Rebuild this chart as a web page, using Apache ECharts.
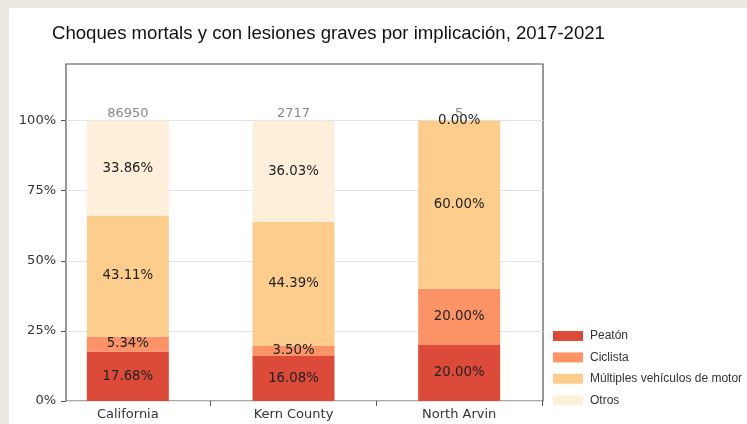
<!DOCTYPE html>
<html>
<head>
<meta charset="utf-8">
<script src="https://cdn.jsdelivr.net/npm/echarts@6/dist/echarts.min.js"></script>
<style>
  html, body { margin: 0; padding: 0; background: #ece9e3; }
  #main { width: 747px; height: 424px; }
</style>
</head>
<body>
<div id="main"></div>
<script>
// data
const categories = ['California', 'Kern County', 'North Arvin'];
const peaton = [17.68, 16.08, 20.00];
const ciclista = [5.34, 3.50, 20.00];
const multiples = [43.11, 44.39, 60.00];
const otros = [33.86, 36.03, 0.00];
const totals = [86950, 2717, 5];
const yTicks = [0, 25, 50, 75, 100];

const seriesNames = ['Peatón', 'Ciclista', 'Múltiples vehículos de motor', 'Otros'];
const colors = ['#dc4a3a', '#fb9367', '#fdcd8e', '#feefdb'];

const chart = echarts.init(document.getElementById('main'), null, { renderer: 'canvas' });

const segLabel = {
    show: true,
    position: 'inside',
    fontFamily: 'DejaVu Sans',
    fontSize: 13.3,
    color: '#222',
    formatter: p => p.value.toFixed(2) + '%'
};

const stackSeries = [peaton, ciclista, multiples, otros].map((vals, i) => ({
    name: seriesNames[i],
    type: 'bar',
    stack: 'total',
    xAxisIndex: 0,
    yAxisIndex: 0,
    barWidth: 82,
    data: vals,
    itemStyle: { color: colors[i] },
    label: segLabel
}));

const option = {
    backgroundColor: '#ece9e3',
    animation: false,
    color: colors,
    title: {
        text: 'Choques mortals y con lesiones graves por implicación, 2017-2021',
        left: 52,
        top: 24,
        padding: 0,
        textStyle: {
            fontFamily: 'Liberation Sans',
            fontSize: 18.6,
            fontWeight: 'normal',
            color: '#111'
        }
    },
    graphic: [{
        type: 'rect',
        z: -10,
        shape: { x: 9, y: 8, width: 738, height: 416 },
        style: { fill: '#ffffff' }
    }],
    legend: {
        data: seriesNames,
        orient: 'vertical',
        left: 553,
        top: 330,
        padding: 0,
        itemWidth: 30,
        itemHeight: 10,
        itemGap: 9.4,
        icon: 'rect',
        textStyle: {
            fontFamily: 'Liberation Sans',
            fontSize: 12,
            color: '#333',
            padding: [0, 0, 0, 2]
        }
    },
    grid: [
        { left: 45, right: 205, top: 64, bottom: 23 },
        { left: 66, right: 204, top: 64, bottom: 23, show: true, borderColor: '#555', borderWidth: 1.2 }
    ],
    xAxis: [
        {
            gridIndex: 0,
            type: 'category',
            data: categories,
            axisLine: { show: false },
            axisTick: {
                show: true,
                length: 5,
                interval: i => i !== 0,
                lineStyle: { color: '#555' }
            },
            axisLabel: {
                interval: 0,
                margin: 7,
                fontFamily: 'DejaVu Sans',
                fontSize: 13,
                color: '#333'
            }
        },
        { gridIndex: 1, type: 'value', show: false }
    ],
    yAxis: [
        { gridIndex: 0, type: 'value', min: 0, max: 120.2, show: false },
        {
            gridIndex: 1,
            type: 'value',
            min: 0,
            max: 120.2,
            interval: 25,
            axisLine: { show: false },
            axisTick: {
                show: true,
                length: 5,
                customValues: yTicks,
                lineStyle: { color: '#555' }
            },
            axisLabel: {
                customValues: yTicks,
                margin: 10,
                fontFamily: 'DejaVu Sans',
                fontSize: 13,
                color: '#333',
                formatter: v => (v > 100 ? '' : v + '%')
            },
            splitLine: { lineStyle: { color: '#e3e3e3' } }
        }
    ],
    series: stackSeries.concat([{
        name: 'total',
        type: 'scatter',
        xAxisIndex: 0,
        yAxisIndex: 0,
        symbolSize: 0,
        silent: true,
        data: categories.map(() => 100),
        label: {
            show: true,
            position: 'top',
            distance: 1,
            fontFamily: 'DejaVu Sans',
            fontSize: 13,
            color: '#666',
            formatter: p => String(totals[p.dataIndex])
        },
        z: 5
    }])
};

chart.setOption(option);
</script>
</body>
</html>
